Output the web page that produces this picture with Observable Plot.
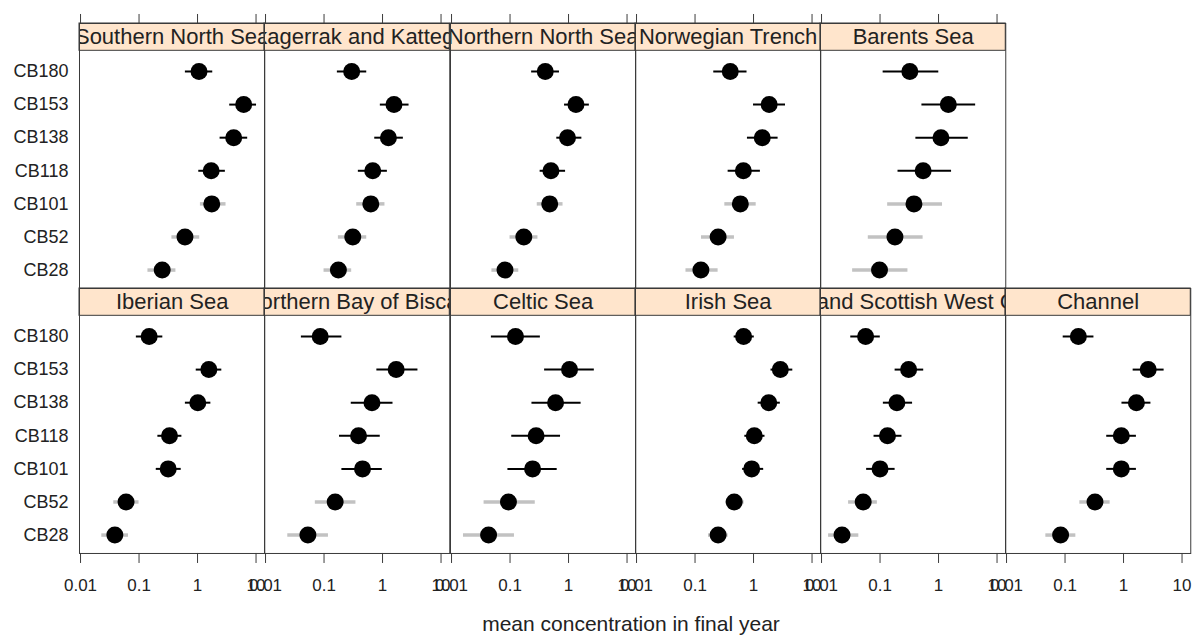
<!DOCTYPE html>
<html>
<head>
<meta charset="utf-8">
<script src="https://cdn.jsdelivr.net/npm/d3@7"></script>
<script src="https://cdn.jsdelivr.net/npm/@observablehq/plot@0.6"></script>
<style>
  body { margin: 0; background: #ffffff; font-family: "Liberation Sans", Arial, sans-serif; }
  #chart { position: relative; width: 1194px; height: 635px; overflow: hidden; background: #ffffff; }
  #chart svg { position: absolute; }
  #xtitle { position: absolute; left: 331px; width: 600px; top: 611px; line-height: 26px; text-align: center;
            font-size: 21px; color: #222; font-family: "Liberation Sans", Arial, sans-serif; }
</style>
</head>
<body>
<div id="chart"><div id="xtitle">mean concentration in final year</div></div>
<script>
// ---- data (lattice order: bottom row left→right, then top row left→right) ----
const chems = ["CB180", "CB153", "CB138", "CB118", "CB101", "CB52", "CB28"];
const regions = [
  "Iberian Sea", "Northern Bay of Biscay", "Celtic Sea", "Irish Sea",
  "Irish and Scottish West Coast", "Channel",
  "Southern North Sea", "Skagerrak and Kattegat", "Northern North Sea",
  "Norwegian Trench", "Barents Sea"
];
const xTicks = [0.01, 0.1, 1, 10];

const meanValues = [
  [0.149, 1.56, 1.01, 0.332, 0.315, 0.060, 0.0386],
  [0.086, 1.71, 0.66, 0.389, 0.455, 0.155, 0.053],
  [0.124, 1.04, 0.60, 0.279, 0.243, 0.094, 0.043],
  [0.676, 2.87, 1.82, 1.03, 0.93, 0.467, 0.248],
  [0.0567, 0.308, 0.194, 0.134, 0.100, 0.0515, 0.0224],
  [0.169, 2.64, 1.66, 0.916, 0.916, 0.325, 0.084],
  [1.06, 6.15, 4.15, 1.71, 1.75, 0.61, 0.249],
  [0.297, 1.57, 1.26, 0.68, 0.63, 0.31, 0.176],
  [0.40, 1.34, 0.96, 0.50, 0.477, 0.172, 0.082],
  [0.40, 1.85, 1.41, 0.67, 0.595, 0.248, 0.126],
  [0.323, 1.47, 1.10, 0.545, 0.38, 0.18, 0.098]
];
const lowValues = [
  [0.090, 0.95, 0.62, 0.21, 0.197, 0.037, 0.0231],
  [0.041, 0.80, 0.292, 0.184, 0.202, 0.071, 0.024],
  [0.048, 0.39, 0.237, 0.107, 0.092, 0.036, 0.016],
  [0.467, 1.99, 1.20, 0.71, 0.65, 0.336, 0.17],
  [0.0316, 0.181, 0.114, 0.079, 0.059, 0.029, 0.0132],
  [0.093, 1.46, 0.94, 0.516, 0.516, 0.179, 0.047],
  [0.62, 3.55, 2.43, 1.05, 1.12, 0.365, 0.142],
  [0.169, 0.917, 0.736, 0.386, 0.362, 0.176, 0.100],
  [0.234, 0.855, 0.63, 0.327, 0.292, 0.100, 0.049],
  [0.209, 1.00, 0.787, 0.368, 0.323, 0.129, 0.070],
  [0.113, 0.52, 0.41, 0.203, 0.135, 0.063, 0.034]
];
const highValues = [
  [0.255, 2.60, 1.69, 0.54, 0.526, 0.100, 0.066],
  [0.202, 4.03, 1.51, 0.914, 0.99, 0.351, 0.119],
  [0.33, 2.76, 1.64, 0.73, 0.64, 0.27, 0.119],
  [1.03, 4.69, 2.87, 1.57, 1.49, 0.69, 0.368],
  [0.101, 0.558, 0.36, 0.237, 0.181, 0.090, 0.0434],
  [0.312, 4.94, 2.94, 1.66, 1.66, 0.59, 0.153],
  [1.82, 10.2, 7.2, 2.99, 3.07, 1.09, 0.427],
  [0.537, 2.84, 2.27, 1.21, 1.10, 0.537, 0.297],
  [0.70, 2.27, 1.69, 0.89, 0.805, 0.30, 0.141],
  [0.774, 3.52, 2.63, 1.31, 1.11, 0.472, 0.248],
  [1.01, 4.31, 3.22, 1.67, 1.17, 0.545, 0.30]
];
const lineKinds = [
  ["dark", "dark", "dark", "dark", "dark", "light", "light"],
  ["dark", "dark", "dark", "dark", "dark", "light", "light"],
  ["dark", "dark", "dark", "dark", "dark", "light", "light"],
  ["dark", "dark", "dark", "dark", "dark", "light", "light"],
  ["dark", "dark", "dark", "dark", "dark", "light", "light"],
  ["dark", "dark", "dark", "dark", "dark", "light", "light"],
  ["dark", "dark", "dark", "dark", "light", "light", "light"],
  ["dark", "dark", "dark", "dark", "light", "light", "light"],
  ["dark", "dark", "dark", "dark", "light", "light", "light"],
  ["dark", "dark", "dark", "dark", "light", "light", "light"],
  ["dark", "dark", "dark", "dark", "light", "light", "light"]
];

// ---- layout ----
const nCols = 6;
const panelW = 185.28;
const cellH = 265;
const firstLeft = 79;
const rowTops = [22.7, 287.7];      // top row, bottom row (cell incl. strip)
const mL = 80, mR = 20, mT = 25, mB = 50;
const yCellTop = -0.45, yStripBottom = 0.375, yCellBottom = 7.556;
const xDomain = [0.0096, 14.1];
const ink = "#222";
const frameInk = "#3a3a3a";

const chart = document.getElementById("chart");

regions.forEach((region, i) => {
  const row = i < nCols ? 1 : 0;          // lattice fills from the bottom
  const col = i % nCols;
  const data = chems.map((c, j) => ({
    chem: c, idx: j + 1,
    mean: meanValues[i][j], lo: lowValues[i][j], hi: highValues[i][j], kind: lineKinds[i][j]
  }));

  const marks = [
    Plot.rect([region], {y1: yCellTop, y2: yStripBottom, fill: "#ffe5cc", stroke: frameInk, strokeWidth: 1}),
    Plot.text([region], {y: (yCellTop + yStripBottom) / 2, text: d => d, fontSize: 22, fill: ink, clip: true, lineAnchor: "middle"}),
    Plot.ruleY(data, {filter: d => d.kind === "light", y: "idx", x1: "lo", x2: "hi", stroke: "#c2c2c2", strokeWidth: 3.5}),
    Plot.ruleY(data, {filter: d => d.kind === "dark", y: "idx", x1: "lo", x2: "hi", stroke: "#000", strokeWidth: 2}),
    Plot.dot(data, {x: "mean", y: "idx", r: 8.5, fill: "#000", stroke: null}),
    Plot.frame({stroke: frameInk, strokeWidth: 1})
  ];
  if (row === 0) {
    marks.push(Plot.axisX({anchor: "top", ticks: xTicks, tickSize: 10, tickFormat: () => "", label: null, stroke: frameInk}));
  } else {
    marks.push(Plot.axisX({anchor: "bottom", ticks: xTicks, tickSize: 10, tickPadding: 15,
      tickFormat: d => String(d), label: null, fontSize: 17, fill: ink, stroke: frameInk}));
  }
  if (col === 0) {
    marks.push(Plot.axisY({ticks: chems.map((c, j) => j + 1), tickFormat: v => chems[v - 1],
      tickSize: 0, tickPadding: 11, label: null, fontSize: 18, fill: ink}));
  }

  const svg = Plot.plot({
    width: panelW + mL + mR,
    height: cellH + mT + mB,
    marginLeft: mL, marginRight: mR, marginTop: mT, marginBottom: mB,
    style: {background: "transparent", overflow: "visible", fontFamily: "Liberation Sans, Arial, sans-serif", fontSize: "17px", color: ink},
    x: {type: "log", domain: xDomain},
    y: {type: "linear", domain: [yCellBottom, yCellTop], axis: col === 0 ? undefined : null},
    marks
  });
  svg.style.position = "absolute";
  svg.style.left = (firstLeft + col * panelW - mL) + "px";
  svg.style.top = (rowTops[row] - mT) + "px";
  svg.style.maxWidth = "none";
  chart.appendChild(svg);
});
</script>
</body>
</html>
